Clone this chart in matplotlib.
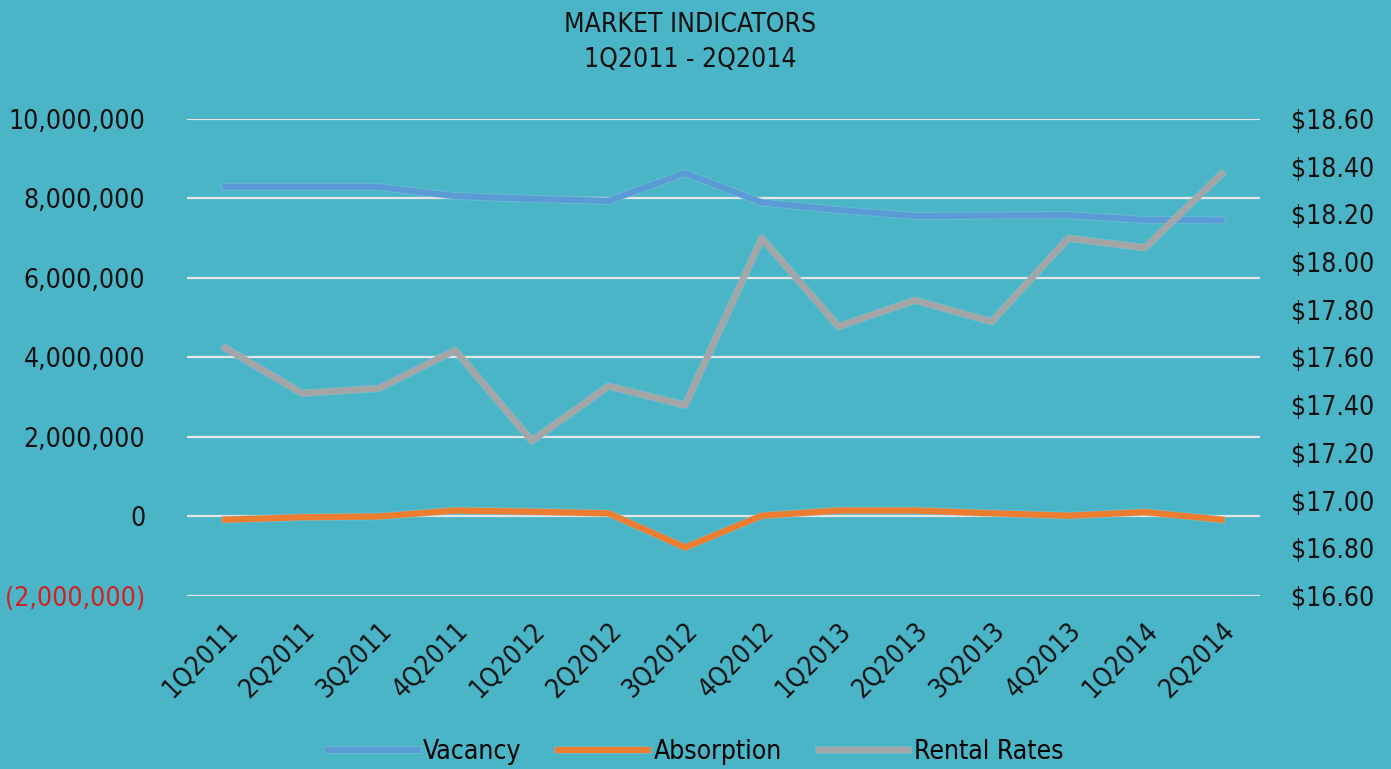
import matplotlib.pyplot as plt
import matplotlib.patheffects as pe
from matplotlib.ticker import FuncFormatter, MultipleLocator

quarters = ['1Q2011', '2Q2011', '3Q2011', '4Q2011', '1Q2012', '2Q2012', '3Q2012',
            '4Q2012', '1Q2013', '2Q2013', '3Q2013', '4Q2013', '1Q2014', '2Q2014']
vacancy = [8290000, 8290000, 8290000, 8060000, 7990000, 7940000, 8640000,
           7900000, 7710000, 7560000, 7570000, 7580000, 7460000, 7450000]
absorption = [-80000, -20000, 0, 150000, 120000, 80000, -780000,
              20000, 150000, 150000, 80000, 20000, 110000, -80000]
rental_rates = [17.64, 17.45, 17.47, 17.63, 17.25, 17.48, 17.40,
                18.10, 17.73, 17.84, 17.75, 18.10, 18.06, 18.37]

plt.rcParams['font.family'] = ['DejaVu Sans']
plt.rcParams['font.stretch'] = 'condensed'

bg = '#49b5c7'
fig = plt.figure(figsize=(13.91, 7.69), dpi=100, facecolor=bg)
ax = fig.add_axes([0.1344, 0.2250, 0.7714, 0.6203])
ax.set_facecolor('none')
ax2 = ax.twinx()
ax2.set_facecolor('none')

x = list(range(len(quarters)))

glow = [pe.Stroke(linewidth=5.5, foreground='#8fcbdc', alpha=0.5), pe.Normal()]
l1, = ax.plot(x, vacancy, color='#5b9bd5', lw=4.5, label='Vacancy', path_effects=glow, zorder=3)
l2, = ax.plot(x, absorption, color='#ed7d31', lw=4.5, label='Absorption', path_effects=glow, zorder=3)
l3, = ax2.plot(x, rental_rates, color='#a5a5a5', lw=4.5, label='Rental Rates', path_effects=glow, zorder=3)

ax.set_xlim(-0.5, len(quarters) - 0.5)
ax.set_ylim(-2000000, 10000000)
ax.yaxis.set_major_locator(MultipleLocator(2000000))
ax2.set_ylim(16.6, 18.6)
ax2.yaxis.set_major_locator(MultipleLocator(0.2))

def fmt_left(v, pos):
    if v < 0:
        return '({:,.0f})'.format(-v)
    return '{:,.0f}'.format(v)

ax.yaxis.set_major_formatter(FuncFormatter(fmt_left))
ax2.yaxis.set_major_formatter(FuncFormatter(lambda v, pos: '${:.2f}'.format(v)))

ax.grid(axis='y', color='#e6e6e6', lw=1.6, zorder=1)
ax.set_axisbelow(True)
for a in (ax, ax2):
    for s in a.spines.values():
        s.set_visible(False)
    a.tick_params(length=0, labelsize=19, colors='#111111')

ax.tick_params(axis='y', pad=30)
ax2.tick_params(axis='y', pad=22)
for t in ax.get_yticklabels():
    if t.get_text().startswith('('):
        t.set_color('#d42020')

ax.set_xticks(x)
ax.set_xticklabels(quarters, rotation=45, ha='right', rotation_mode='anchor')
ax.tick_params(axis='x', pad=16)

fig.text(0.496, 0.968, 'MARKET INDICATORS', ha='center', va='center', fontsize=19, color='#111111')
fig.text(0.496, 0.922, '1Q2011 - 2Q2014', ha='center', va='center', fontsize=19, color='#111111')

fig.legend(handles=[l1, l2, l3], loc='center', bbox_to_anchor=(0.5, 0.022), ncol=3,
           frameon=False, fontsize=19, handlelength=3.4, handletextpad=0.2, columnspacing=1.4)

plt.savefig('out.png', dpi=100, facecolor=bg)
